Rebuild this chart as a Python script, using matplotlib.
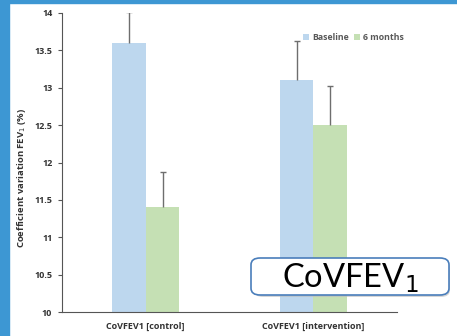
import matplotlib.pyplot as plt
from matplotlib.patches import Rectangle, FancyBboxPatch
import numpy as np

plt.rcParams['font.family'] = ['Open Sans', 'DejaVu Sans']

groups = ['CoVFEV1 [control]', 'CoVFEV1 [intervention]']
baseline = [13.6, 13.1]
baseline_err = [0.42, 0.52]
months6 = [11.4, 12.5]
months6_err = [0.47, 0.53]
yticks = [10, 10.5, 11, 11.5, 12, 12.5, 13, 13.5, 14]

fig = plt.figure(figsize=(4.57, 3.36), dpi=100)
fig.patch.set_facecolor('white')

# blue slide frame
fig.patches.append(Rectangle((0, 0), 9 / 457, 1, transform=fig.transFigure, color='#3d97d3', zorder=0))
fig.patches.append(Rectangle((0, 1 - 3 / 336), 1, 3 / 336, transform=fig.transFigure, color='#3d97d3', zorder=0))

ax = fig.add_axes([62 / 457, 1 - 312 / 336, 335 / 457, 299 / 336])
x = np.arange(len(groups))
w = 0.2
ekw = dict(ecolor='#6e6e6e', elinewidth=1, capsize=2, capthick=1)
b1 = ax.bar(x - w / 2, baseline, w, color='#bdd7ee', label='Baseline',
            yerr=[np.zeros(2), baseline_err], error_kw=ekw)
b2 = ax.bar(x + w / 2, months6, w, color='#c5e0b4', label='6 months',
            yerr=[np.zeros(2), months6_err], error_kw=ekw)
# only the upper caps are shown
for b in (b1, b2):
    b.errorbar.lines[1][0].set_visible(False)

ax.set_xlim(-0.5, 1.5)
ax.set_ylim(10, 14)
ax.set_yticks(yticks)
ax.set_yticklabels([('%g' % v) for v in yticks], fontsize=6.5, fontweight='bold', color='#333333')
ax.set_xticks(x)
ax.set_xticklabels(groups, fontsize=6.5, fontweight='bold', color='#333333')
ax.tick_params(axis='x', length=0, pad=7)
ax.tick_params(axis='y', length=3, width=0.8, color='#555555', pad=4)
ax.spines['top'].set_visible(False)
ax.spines['right'].set_visible(False)
ax.spines['left'].set_color('#555555')
ax.spines['bottom'].set_color('#555555')
ax.set_ylabel('Coefficient variation FEV$_1$ (%)', fontsize=6.8, fontweight='bold', color='#333333')
ax.yaxis.set_label_coords(-34 / 335, 0.45)

leg = ax.legend(loc='upper left', bbox_to_anchor=(0.71, 0.945), ncol=2, frameon=False,
                prop={'size': 6.3, 'weight': 'bold'}, handlelength=0.7, handleheight=0.7,
                handletextpad=0.3, columnspacing=0.6, borderaxespad=0)
for t in leg.get_texts():
    t.set_color('#595959')

# CoVFEV1 label box with shadow
shadow = FancyBboxPatch((254 / 457, 1 - 297 / 336), 196 / 457, 36 / 336, boxstyle='round,pad=0,rounding_size=0.02',
                        transform=fig.transFigure, facecolor='#bbbbbb', edgecolor='none', alpha=0.6, zorder=5)
box = FancyBboxPatch((251 / 457, 1 - 295 / 336), 198 / 457, 37 / 336, boxstyle='round,pad=0,rounding_size=0.02',
                     transform=fig.transFigure, facecolor='white', edgecolor='#4a7ebb', linewidth=1.2, zorder=6)
fig.patches.append(shadow)
fig.patches.append(box)
fig.text(350 / 457, 1 - 278 / 336, 'CoVFEV$_1$', family='Lato', fontsize=23.5, ha='center', va='center',
         color='black', zorder=7)

fig.savefig('out.png', dpi=100)
